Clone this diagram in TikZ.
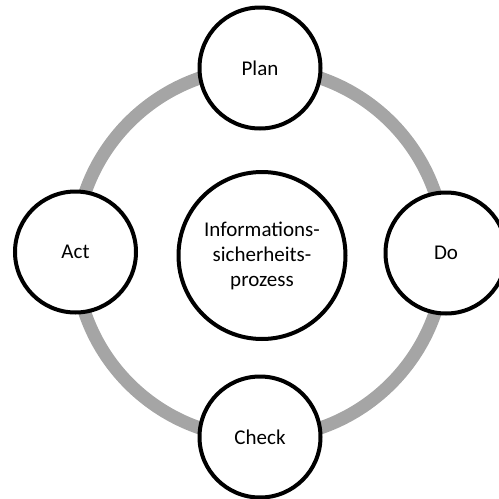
\documentclass[tikz,border=0pt]{standalone}
\usepackage{fontspec}
\setmainfont{Carlito}
\usepackage{xcolor}
\definecolor{ringgray}{HTML}{A5A5A5}
\tikzset{
  stage/.style={circle, draw=black, line width=4pt, fill=white, minimum size=121pt, inner sep=0pt, font=\fontsize{21}{25}\selectfont, align=center},
  core/.style={stage, minimum size=167pt}
}

\begin{document}
\begin{tikzpicture}[x=1pt, y=-1pt]
            \useasboundingbox (0, 0) rectangle (499, 499);
            \draw[ringgray, line width=13pt] (260, 253) circle (185);
            \node[core] (prozess) at (262, 255.5) {Informations-\\sicherheits-\\prozess};
            \node[stage] (plan) at (260, 68) {Plan};
            \node[stage] (do) at (446, 253) {Do};
            \node[stage] (check) at (260, 437) {Check};
            \node[stage] (act) at (75.5, 252) {Act};
          \end{tikzpicture}
\end{document}
